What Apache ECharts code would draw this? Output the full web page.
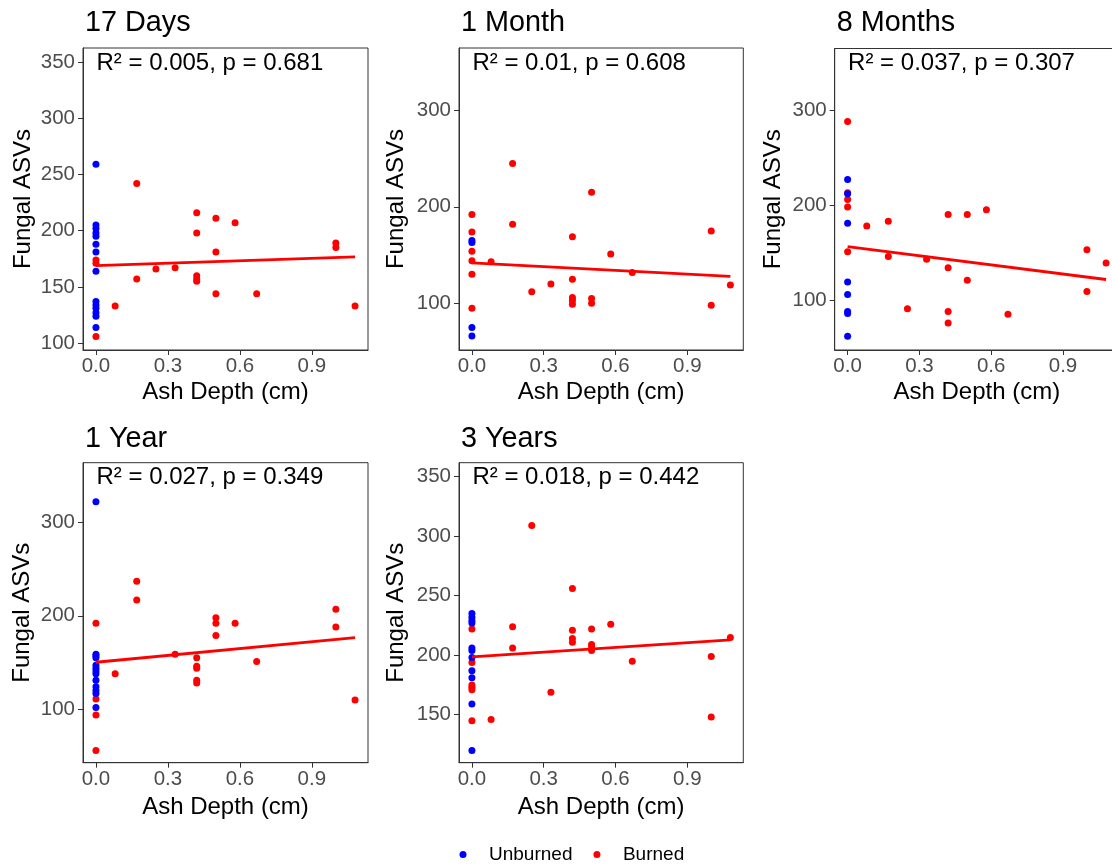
<!DOCTYPE html>
<html>
<head>
<meta charset="utf-8">
<script src="https://cdn.jsdelivr.net/npm/echarts@6/dist/echarts.min.js"></script>
<style>
  html, body { margin: 0; padding: 0; background: #ffffff; overflow: hidden; width: 1112px; height: 867px; }
  #chart { width: 1122px; height: 867px; }
</style>
</head>
<body>
<div id="chart"></div>
<script>
// ---------------- DATA ----------------
const panelTitles = ['17 Days', '1 Month', '8 Months', '1 Year', '3 Years'];
const statLabels = [
  'R\u00b2 = 0.005, p = 0.681',
  'R\u00b2 = 0.01, p = 0.608',
  'R\u00b2 = 0.037, p = 0.307',
  'R\u00b2 = 0.027, p = 0.349',
  'R\u00b2 = 0.018, p = 0.442'
];
const xTickValues = [0, 0.3, 0.6, 0.9];
const yTickValues = [
  [100, 150, 200, 250, 300, 350],
  [100, 200, 300],
  [100, 200, 300],
  [100, 200, 300],
  [150, 200, 250, 300, 350]
];
const xAxisMin = -0.054, xAxisMax = 1.134;
const yAxisMin = [94, 51.6, 47.5, 42.9, 109.7];
const yAxisMax = [362.4, 364.6, 364.8, 363.7, 361.8];

// Unburned samples (ash depth 0)
const unburned17d = [259, 205, 202, 198, 195, 188, 181, 164, 137, 134, 131, 127, 124, 114];
const unburned1m  = [165, 163, 75, 66];
const unburned8m  = [227, 212, 181, 119, 106, 88, 86, 62];
const unburned1y  = [322, 159, 157, 155, 147, 144, 141, 138, 131, 124, 120, 117, 102];
const unburned3y  = [235, 232, 229, 227, 206, 204, 198, 187, 181, 159, 120];

// Burned samples: ash depth (cm) and fungal ASVs
const burned17dX = [0, 0, 0, 0.08, 0.17, 0.17, 0.25, 0.33, 0.42, 0.42, 0.42, 0.42, 0.42, 0.5, 0.5, 0.5, 0.58, 0.67, 1.0, 1.0, 1.08];
const burned17dY = [174, 171, 106, 133, 242, 157, 166, 167, 216, 198, 160, 157, 155, 211, 181, 144, 207, 144, 189, 185, 133];

const burned1mX = [0, 0, 0, 0, 0, 0, 0.08, 0.17, 0.17, 0.25, 0.33, 0.42, 0.42, 0.42, 0.42, 0.42, 0.5, 0.5, 0.5, 0.58, 0.67, 1.0, 1.0, 1.08];
const burned1mY = [192, 174, 154, 144, 130, 95, 143, 245, 182, 112, 120, 169, 125, 106, 103, 99, 215, 105, 100, 151, 132, 175, 98, 119];

const burned8mX = [0, 0, 0, 0, 0, 0.08, 0.17, 0.17, 0.25, 0.33, 0.42, 0.42, 0.42, 0.42, 0.5, 0.5, 0.58, 0.67, 1.0, 1.0, 1.08];
const burned8mY = [288, 213, 206, 198, 151, 178, 183, 146, 91, 143, 190, 134, 88, 76, 190, 121, 195, 85, 153, 109, 139];

const burned1yX = [0, 0, 0, 0, 0.08, 0.17, 0.17, 0.33, 0.42, 0.42, 0.42, 0.42, 0.42, 0.5, 0.5, 0.5, 0.58, 0.67, 1.0, 1.0, 1.08];
const burned1yY = [192, 111, 94, 56, 138, 237, 217, 159, 155, 146, 144, 131, 128, 198, 192, 179, 192, 151, 207, 188, 110];

const burned3yX = [0, 0, 0, 0, 0, 0, 0.08, 0.17, 0.17, 0.25, 0.33, 0.42, 0.42, 0.42, 0.42, 0.5, 0.5, 0.5, 0.5, 0.58, 0.67, 1.0, 1.0, 1.08];
const burned3yY = [222, 194, 175, 173, 171, 145, 146, 224, 206, 309, 169, 256, 221, 214, 211, 222, 209, 207, 204, 226, 195, 199, 148, 215];

// Fitted regression line values at ash depth 0 and 1.08
const fitX = [0, 1.08];
const fitAtStart = [169, 141.8, 156.4, 150.3, 198.7];
const fitAtEnd   = [176.7, 128, 121.7, 176.6, 213];

// ---------------- LAYOUT ----------------
const unburnedSets = [unburned17d, unburned1m, unburned8m, unburned1y, unburned3y];
const burnedXs = [burned17dX, burned1mX, burned8mX, burned1yX, burned3yX];
const burnedYs = [burned17dY, burned1mY, burned8mY, burned1yY, burned3yY];

const grids = [
  { left: 83,    top: 48,    width: 285,   height: 302 },
  { left: 459,   top: 48,    width: 284.3, height: 302 },
  { left: 834.7, top: 48.5,  width: 284.3, height: 301.5 },
  { left: 83,    top: 462.7, width: 285,   height: 300 },
  { left: 459,   top: 462.7, width: 284.3, height: 300 }
];
const titleY = [23.5, 23.5, 23.5, 439, 439];
const statY = [63, 63, 63, 477.5, 477.5];
const xNameY = [392.5, 392.5, 392.5, 807, 807];
const yNameX = [23, 396.5, 773, 22, 396.5];

const FONT = 'Liberation Sans, Arial, Helvetica, sans-serif';
const BLUE = '#0000FF', RED = '#FF0000';

const option = {
  animation: false,
  backgroundColor: '#ffffff',
  grid: grids.map(g => Object.assign({
    show: true, borderColor: '#333333', borderWidth: 1, backgroundColor: 'transparent', containLabel: false
  }, g)),
  xAxis: grids.map((g, i) => ({
    type: 'value', gridIndex: i, min: xAxisMin, max: xAxisMax,
    axisLine: { show: true, onZero: false, lineStyle: { color: '#333333', width: 1 } },
    axisTick: { show: true, length: 5, customValues: xTickValues, lineStyle: { color: '#333333' } },
    axisLabel: {
      customValues: xTickValues, margin: 6, color: '#4D4D4D', fontSize: 20.5, fontFamily: FONT,
      formatter: v => v.toFixed(1)
    },
    splitLine: { show: false }
  })),
  yAxis: grids.map((g, i) => ({
    type: 'value', gridIndex: i, min: yAxisMin[i], max: yAxisMax[i],
    axisLine: { show: true, onZero: false, lineStyle: { color: '#333333', width: 1 } },
    axisTick: { show: true, length: 5, customValues: yTickValues[i], lineStyle: { color: '#333333' } },
    axisLabel: {
      customValues: yTickValues[i], margin: 8, color: '#4D4D4D', fontSize: 20.5, fontFamily: FONT
    },
    splitLine: { show: false }
  })),
  legend: {
    data: [{ name: 'Unburned' }, { name: 'Burned' }],
    left: 459.5, top: 845, padding: 0,
    icon: 'circle', itemWidth: 42, itemHeight: 7, itemGap: 21,
    selectedMode: false,
    textStyle: { fontSize: 19, fontFamily: FONT, color: '#000000' }
  },
  series: [],
  graphic: []
};

for (let i = 0; i < 5; i++) {
  option.series.push({
    name: 'Burned', type: 'scatter', xAxisIndex: i, yAxisIndex: i,
    symbol: 'circle', symbolSize: 7, itemStyle: { color: RED, opacity: 1 },
    data: burnedXs[i].map((x, k) => [x, burnedYs[i][k]])
  });
  option.series.push({
    name: 'Unburned', type: 'scatter', xAxisIndex: i, yAxisIndex: i,
    symbol: 'circle', symbolSize: 7, itemStyle: { color: BLUE, opacity: 1 },
    data: unburnedSets[i].map(y => [0, y])
  });
  option.series.push({
    name: 'fit', type: 'line', xAxisIndex: i, yAxisIndex: i,
    showSymbol: false, symbol: 'none', silent: true,
    lineStyle: { color: RED, width: 2.8 },
    data: [[fitX[0], fitAtStart[i]], [fitX[1], fitAtEnd[i]]]
  });

  const g = grids[i];
  const zeroPx = g.left + g.width * (0 - xAxisMin) / (xAxisMax - xAxisMin);
  option.graphic.push({
    type: 'text', x: g.left + 2, y: titleY[i],
    style: { text: panelTitles[i], fontSize: 28.8, fontFamily: FONT, fill: '#000', align: 'left', verticalAlign: 'middle' }
  });
  option.graphic.push({
    type: 'text', x: zeroPx + 0.5, y: statY[i],
    style: { text: statLabels[i], fontSize: 24, fontFamily: FONT, fill: '#000', align: 'left', verticalAlign: 'middle' }
  });
  option.graphic.push({
    type: 'text', x: g.left + g.width / 2, y: xNameY[i],
    style: { text: 'Ash Depth (cm)', fontSize: 24, fontFamily: FONT, fill: '#000', align: 'center', verticalAlign: 'middle' }
  });
  option.graphic.push({
    type: 'text', x: yNameX[i], y: g.top + g.height / 2, rotation: Math.PI / 2,
    style: { text: 'Fungal ASVs', fontSize: 24, fontFamily: FONT, fill: '#000', align: 'center', verticalAlign: 'middle' }
  });
}

const chart = echarts.init(document.getElementById('chart'), null, { renderer: 'canvas' });
chart.setOption(option);
</script>
</body>
</html>
